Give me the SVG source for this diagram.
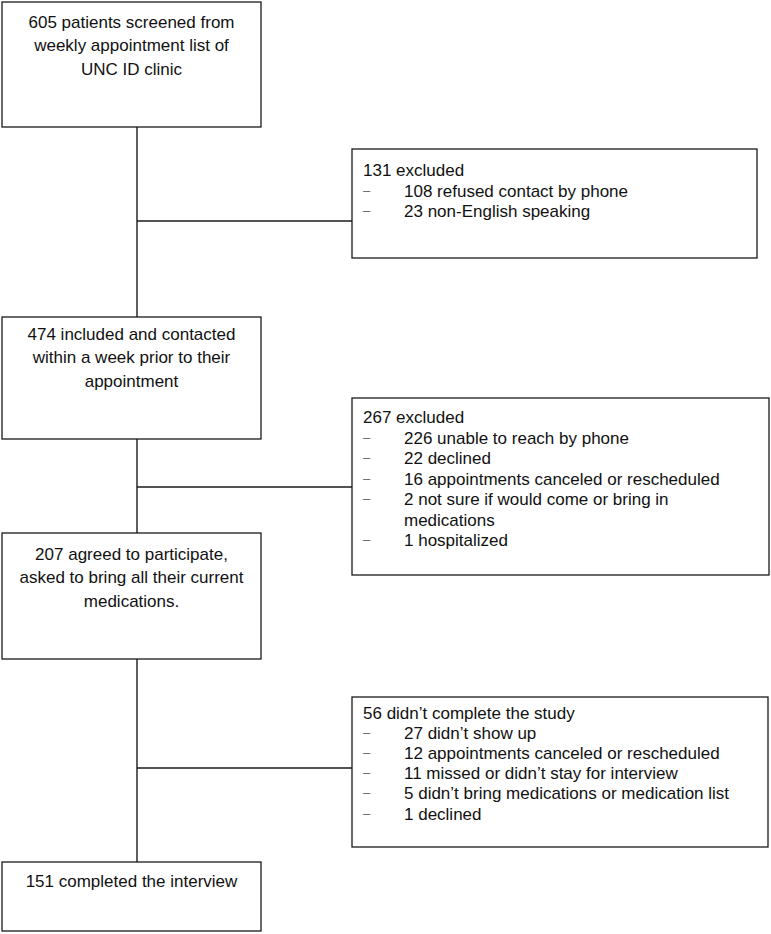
<svg xmlns="http://www.w3.org/2000/svg" width="771" height="934" viewBox="0 0 771 934">
<style>
.box{fill:#fff;stroke:#1a1a1a;stroke-width:1.3}
.ln{fill:none;stroke:#1a1a1a;stroke-width:1.4}
text{font-family:"Liberation Sans",Arial,sans-serif;font-size:17px;fill:#111}
.c{text-anchor:middle}
.d{fill:#666;font-size:13px}
</style>
<rect width="771" height="934" fill="#fff"/>
<g id="connectors">
<line class="ln" x1="137" y1="127" x2="137" y2="317"/>
<line class="ln" x1="137" y1="439" x2="137" y2="533"/>
<line class="ln" x1="137" y1="659" x2="137" y2="862"/>
<line class="ln" x1="137" y1="221" x2="352" y2="221"/>
<line class="ln" x1="137" y1="487" x2="352" y2="487"/>
<line class="ln" x1="137" y1="768" x2="352" y2="768"/>
</g>
<g id="screened">
<rect class="box" x="2" y="2" width="259" height="125"/>
<text class="c" x="131.5" y="28">605 patients screened from</text>
<text class="c" x="131.5" y="51.3">weekly appointment list of</text>
<text class="c" x="131.5" y="74.6">UNC ID clinic</text>
</g>
<g id="excluded131">
<rect class="box" x="352" y="149" width="405" height="109"/>
<text x="363" y="176">131 excluded</text>
<text class="d" x="363" y="194.6">–</text><text x="404" y="196.6">108 refused contact by phone</text>
<text class="d" x="363" y="215.2">–</text><text x="404" y="217.2">23 non-English speaking</text>
</g>
<g id="included">
<rect class="box" x="2" y="317" width="259" height="122"/>
<text class="c" x="131.5" y="340">474 included and contacted</text>
<text class="c" x="131.5" y="363.3">within a week prior to their</text>
<text class="c" x="131.5" y="386.6">appointment</text>
</g>
<g id="excluded267">
<rect class="box" x="352" y="398" width="417" height="177"/>
<text x="363" y="423">267 excluded</text>
<text class="d" x="363" y="441.5">–</text><text x="404" y="443.5">226 unable to reach by phone</text>
<text class="d" x="363" y="462">–</text><text x="404" y="464">22 declined</text>
<text class="d" x="363" y="482.5">–</text><text x="404" y="484.5">16 appointments canceled or rescheduled</text>
<text class="d" x="363" y="503">–</text><text x="404" y="505">2 not sure if would come or bring in</text>
<text x="404" y="525.5">medications</text>
<text class="d" x="363" y="544">–</text><text x="404" y="546">1 hospitalized</text>
</g>
<g id="agreed">
<rect class="box" x="2" y="533" width="259" height="126"/>
<text class="c" x="131.5" y="560">207 agreed to participate,</text>
<text class="c" x="131.5" y="583.3">asked to bring all their current</text>
<text class="c" x="131.5" y="606.6">medications.</text>
</g>
<g id="notcomplete">
<rect class="box" x="352" y="697" width="416" height="150"/>
<text x="363" y="718.5">56 didn’t complete the study</text>
<text class="d" x="363" y="736.7">–</text><text x="404" y="738.7">27 didn’t show up</text>
<text class="d" x="363" y="756.9">–</text><text x="404" y="758.9">12 appointments canceled or rescheduled</text>
<text class="d" x="363" y="777.1">–</text><text x="404" y="779.1">11 missed or didn’t stay for interview</text>
<text class="d" x="363" y="797.3">–</text><text x="404" y="799.3">5 didn’t bring medications or medication list</text>
<text class="d" x="363" y="817.5">–</text><text x="404" y="819.5">1 declined</text>
</g>
<g id="completed">
<rect class="box" x="2" y="862" width="259" height="69"/>
<text class="c" x="131.5" y="887">151 completed the interview</text>
</g>
</svg>
